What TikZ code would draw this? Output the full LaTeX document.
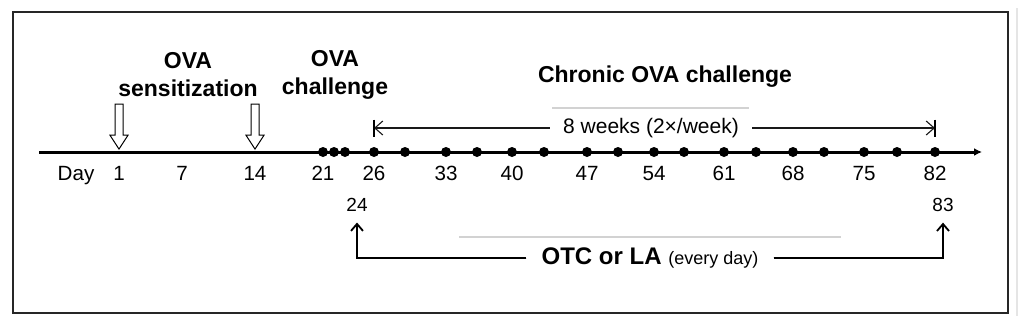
\documentclass[tikz,border=0pt]{standalone}
\usepackage{fontspec}
\setmainfont{Liberation Sans}
\usetikzlibrary{arrows.meta,positioning,shapes.arrows}

\begin{document}
\begin{tikzpicture}[
  x=0.5pt, y=-0.5pt,
  font=\fontsize{10.3}{12}\selectfont,
  title/.style={font=\fontsize{11.5}{14}\selectfont\bfseries, align=center,
                inner sep=0pt},
  daylbl/.style={anchor=base, inner sep=0pt},
  dot/.style={circle, fill=black, inner sep=0pt, minimum size=5pt},
  axis/.style={line width=1.5pt, -{Latex[length=4pt,width=4pt]}},
  hollow/.style={single arrow, draw, line width=0.5pt, fill=white,
                 rotate=-90, minimum height=22.5pt, minimum width=8.5pt,
                 single arrow head extend=2.5pt, single arrow tip angle=66,
                 inner sep=1.75pt, anchor=tip},
  dimline/.style={line width=0.55pt, black!90,
                  -{Straight Barb[length=4pt,width=7pt]}},
  drugarr/.style={line width=0.9pt, -{Straight Barb[length=3.5pt,width=6pt]}},
  artifact/.style={gray!35, line width=0.6pt},
]
\useasboundingbox (0,0) rectangle (1024,327);

% Frame
\draw[line width=1.1pt, black!85] (13,12) rectangle (1008,313);
\draw[artifact, gray!20] (1017,8) -- (1017,316);

% Titles
\node[title] (sens) at (188,75) {OVA\\sensitization};
\node[title] (chal) at (335,75) {OVA\\challenge};
\node[title] (chron) at (665,77) {Chronic OVA challenge};

% Time axis
\coordinate (axstart) at (39,152);
\coordinate (axend) at (982,152);
\draw[axis] (axstart) -- (axend);

% Day labels
\node[daylbl] (day) at (76,180) {Day};
\foreach \d/\x in {1/119,7/182,14/255,21/323,26/374,33/446,40/512,47/587,
                   54/654,61/724,68/793,75/864,82/935}
  \node[daylbl] (lbl\d) at (\x,180) {\d};

% Challenge days
\foreach \d/\x in {21/323,22/334,23/345,26/374,29/405,33/446,36/477,40/512,
                   43/544,47/587,50/618,54/654,57/684,61/724,64/756,68/793,
                   71/824,75/864,78/897,82/935}
  \node[dot] (dot\d) at (\x,152) {};

% Sensitization arrows
\node[hollow] (sens1) at (119,150) {};
\node[hollow] (sens14) at (255,150) {};

% 8 weeks span
\draw[artifact] (552,108) -- (749,108);
\node[font=\fontsize{10.5}{12}\selectfont, inner xsep=6.5pt] (weeks)
  at (651,128) {8 weeks (2×/week)};
\coordinate (wkL) at (dot26 |- weeks);
\coordinate (wkR) at (dot82 |- weeks);
\draw[dimline] (weeks.west) -- (wkL);
\draw[dimline] (weeks.east) -- (wkR);
\draw[line width=0.6pt] ([yshift=4.25pt]wkL) -- ([yshift=-4.25pt]wkL);
\draw[line width=0.6pt] ([yshift=4.25pt]wkR) -- ([yshift=-4.25pt]wkR);

% Treatment period
\node[font=\fontsize{9.5}{11}\selectfont, inner sep=0pt] (d24) at (357,205) {24};
\node[font=\fontsize{9.5}{11}\selectfont, inner sep=0pt] (d83) at (943,205) {83};
\draw[artifact] (459,237) -- (841,237);
\node[inner xsep=7.5pt] (otc) at (650,258)
  {\fontsize{12}{14}\selectfont\bfseries OTC or LA
   \fontsize{9}{11}\selectfont\mdseries(every day)};
\draw[drugarr] (otc.west) -| ([yshift=-5.25pt]d24.south);
\draw[drugarr] (otc.east) -| ([yshift=-5.25pt]d83.south);
\draw[line width=1.4pt] (otc.west) -- (459,258);
\draw[line width=1.4pt] (otc.east) -- (841,258);

\end{tikzpicture}
\end{document}
